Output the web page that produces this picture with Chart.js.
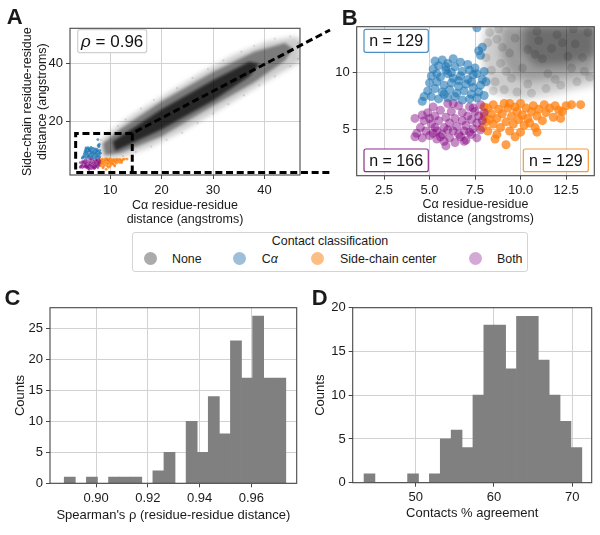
<!DOCTYPE html>
<html>
<head>
<meta charset="utf-8">
<script src="https://cdn.jsdelivr.net/npm/chart.js@4.4.1/dist/chart.umd.min.js"></script>
<style>
  body { margin: 0; background: #fff; font-family: 'Liberation Sans', Arial, sans-serif; color: #1a1a1a; }
  #fig { position: relative; width: 600px; height: 535px; overflow: hidden; }
  canvas { position: absolute; }
  .tag { position: absolute; font-weight: bold; font-size: 22px; line-height: 22px; }
  #legend { position: absolute; left: 132px; top: 231.5px; width: 394px; height: 38px; border: 1px solid #d4d4d4; border-radius: 3px; background: rgba(255,255,255,0.9); font-size: 12.4px; }
  #legend .ttl { position: absolute; left: 0; width: 394px; top: 1.3px; line-height: 14px; text-align: center; }
  #legend .dot { position: absolute; top: 19.8px; width: 13px; height: 13px; border-radius: 50%; }
  #legend .lbl { position: absolute; top: 19.3px; line-height: 14px; }
</style>
</head>
<body>
<div id="fig">
  <canvas id="cvB" width="300" height="230" style="left:300px;top:0"></canvas>
  <canvas id="cvA" width="340" height="230" style="left:0;top:0"></canvas>
  <canvas id="cvC" width="300" height="250" style="left:0;top:285px"></canvas>
  <canvas id="cvD" width="300" height="250" style="left:300px;top:285px"></canvas>
  <div class="tag" style="left:6.7px;top:6.4px">A</div>
  <div class="tag" style="left:341.7px;top:7.1px">B</div>
  <div class="tag" style="left:4.5px;top:287.1px">C</div>
  <div class="tag" style="left:311.8px;top:287.1px">D</div>
  <div id="legend">
    <div class="ttl">Contact classification</div>
    <span class="dot" style="left:10.8px;background:#ababab"></span><span class="lbl" style="left:39px">None</span>
    <span class="dot" style="left:99.5px;background:#9ebfdc"></span><span class="lbl" style="left:128.7px">C<i>α</i></span>
    <span class="dot" style="left:177.8px;background:#fdbe84"></span><span class="lbl" style="left:207px">Side-chain center</span>
    <span class="dot" style="left:335.5px;background:#d5a9d5"></span><span class="lbl" style="left:364px">Both</span>
  </div>
</div>
<script>
// ---- panel A: outline of the non-contact cloud (dense core inside) ----
const cloudOuter = [[7.8,11.5],[8.4,14],[10,16.5],[14.5,22.5],[21,29.5],[27.5,36.5],[34,42.8],[40.5,47.4],[45.5,49],[47,48.5],
                    [47,40.5],[43.7,37.3],[37.2,30.5],[30.8,23.8],[24.3,17],[17.8,11.4],[13,8.3],[10,7.2],[8.5,7.6]];
const cloudMid = [[8.6,12.5],[12,17.5],[20,27],[30,37],[38,44],[44,47],[45.5,45],
                  [44,41],[38,33.5],[30,25.5],[20,15],[12,9.3],[9,8.6]];
const cloudCore = [[10.5,13.2],[20,24.3],[30,34.2],[37,40.5],[39,39.8],[37,35.5],[30,27.2],[20,17.3],[11,10]];
const cloudFringe = [[7.5,11],[8.2,13.8],[9.5,15.8],[11.5,18.5],[13,20.8],[16,24.5],[18.5,27.5],[23,31.5],[26,35],[29,38],
                     [32,41],[35.5,44],[38,46],[42,48.5],[45,49.2],[46.5,47],[9.5,6.8],[12.5,8.2],[15,9.6],[18,11.5],
                     [21,13.8],[24,16.2],[27,19.5],[30,22.8],[33,26],[36,29],[39,32.5],[42,35.5],[45,39],[46.5,41.5]];
const zoomBox = [3.3, 14.3, 2.6, 16];   // x0, x1, y0, y1 of the dashed zoom window

// ---- panel B: zoomed view ----
const zoomGrayOuter = [[8.1,14.2],[7.9,12],[8.0,10],[8.2,8.6],[9,8.0],[10,7.7],[11,7.9],[12,8.2],[13,8.6],[14.2,9.0],[14.2,14.2]];
const zoomGrayMid = [[9.0,14.2],[8.9,11.5],[9.4,9.8],[10.5,9.2],[12,9.5],[14.2,10],[14.2,14.2]];
const zoomGrayCore = [[10.2,14.2],[10.1,12],[10.8,10.6],[12.4,10.7],[14.2,11.5],[14.2,14.2]];
const zoomGrayPts = [[8.3,13.5],[8.2,12.6],[8.1,11.3],[8.4,10.2],[8.6,9.2],[9.1,8.5],[9.8,8.3],[10.6,8.2],[11.4,8.6],[12.2,8.9],
                     [13.1,9.2],[13.8,9.6],[8.8,13.8],[9.0,12.2],[8.9,10.8],[9.5,9.5],[10.4,9.0],[11.9,9.4],[13.5,10.1],[8.5,8.4],
                     [9.4,11.7],[9.7,13.0],[11.0,12.8],[12.0,13.3],[13.0,12.5],[13.7,13.5],[12.6,11.4],[11.2,11.2],[10.4,12.0],[13.4,11.3],
                     [10.9,13.6],[11.7,12.1],[12.9,13.8],[10.1,10.4],[11.5,9.9],[12.8,10.4],[9.2,10.1],[8.7,12.9],[10.8,11.6],[12.3,12.6]];
const caPts = [[5.3,11.0],[5.7,11.1],[6.0,10.8],[6.3,11.2],[6.7,10.9],[7.1,10.7],[7.5,10.4],[7.8,11.5],[7.9,12.2],[7.7,11.9],[7.6,13.9],
               [5.2,10.3],[5.5,10.6],[5.9,10.2],[6.4,10.5],[6.8,10.1],[7.2,10.2],[7.6,9.9],[8.0,10.1],
               [5.1,9.7],[5.6,9.6],[6.0,9.9],[6.3,9.5],[6.7,9.7],[7.1,9.4],[7.4,9.8],[7.9,9.4],
               [5.0,9.1],[5.4,9.2],[5.8,8.9],[6.2,9.1],[6.6,8.8],[7.0,9.0],[7.4,8.7],[7.8,8.9],[8.1,9.2],
               [4.9,8.4],[5.3,8.6],[5.7,8.3],[6.1,8.5],[6.5,8.2],[6.9,8.4],[7.3,8.1],[7.7,8.3],
               [4.7,7.9],[5.1,7.9],[5.5,7.7],[6.0,7.8],[6.4,7.9],[6.8,7.6],[7.2,7.7],[7.6,7.8],[8.0,8.0],
               [4.6,7.5],[5.8,8.1],[6.6,9.3],[5.9,10.5],[7.3,9.2],[6.2,10.0],[5.4,9.9]];
const bothPts = [[4.2,4.4],[4.3,4.7],[4.2,6.0],[4.5,5.2],[4.6,4.3],[4.8,4.9],[4.7,5.8],[4.9,6.5],[5.0,4.5],[5.1,5.5],[5.2,7.0],
                 [5.3,6.2],[5.4,4.2],[5.4,4.9],[5.5,5.8],[5.6,6.7],[5.7,4.6],[5.8,5.2],[5.9,3.6],[5.9,6.1],[6.0,7.3],[6.1,4.3],
                 [6.1,5.6],[6.2,6.6],[6.3,4.9],[6.4,3.9],[6.4,6.0],[6.5,5.3],[6.6,7.1],[6.7,4.4],[6.8,5.8],[6.8,6.5],[6.9,4.9],
                 [7.0,4.1],[7.0,5.4],[7.1,6.2],[7.2,7.0],[7.3,4.6],[7.3,5.9],[7.4,5.1],[7.5,6.6],[7.6,4.3],[7.6,5.6],[7.7,6.2],
                 [7.8,5.0],[7.8,7.2],[7.9,5.8],[8.0,6.5],[5.0,6.0],[5.6,4.4],[6.3,7.3],[6.9,4.0],[7.2,4.8],[5.3,5.2],[4.6,6.3],
                 [5.8,4.0],[6.6,4.6],[7.4,6.9],[5.2,4.7],[6.0,5.0]];
const sidePts = [[7.9,5.2],[8.0,6.2],[8.1,5.7],[8.2,6.9],[8.2,4.9],[8.4,6.4],[8.5,5.5],[8.5,7.2],[8.7,4.6],[8.7,6.0],[8.8,6.8],
                 [8.9,5.2],[9.0,6.4],[9.1,7.3],[9.2,5.7],[9.2,3.7],[9.3,6.9],[9.4,4.9],[9.5,6.2],[9.6,5.5],[9.7,7.0],[9.8,6.6],
                 [9.9,5.9],[10.0,4.8],[10.0,7.3],[10.1,6.3],[10.2,5.4],[10.3,6.9],[10.4,6.0],[10.5,5.6],[10.6,6.6],[10.7,7.1],
                 [10.9,4.8],[10.9,6.2],[11.0,6.8],[11.2,5.8],[11.3,7.2],[11.4,6.5],[11.6,6.9],[11.8,6.1],[11.9,7.1],[12.1,6.7],
                 [12.3,6.6],[12.5,7.1],[12.8,7.2],[13.3,7.2],[12.2,6.0],[8.6,4.2],[9.7,4.4],[8.3,5.9],[10.8,5.2],[9.4,7.3],[8.0,7.0]];

// ---- panels C and D: histograms ----
const rhoBinEdges = [0.8877,0.89198,0.89626,0.90054,0.90482,0.9091,0.91338,0.91766,0.92194,0.92622,0.9305,
                     0.93478,0.93906,0.94334,0.94762,0.9519,0.95618,0.96046,0.96474,0.96902,0.9733];
const rhoCounts = [1,0,1,0,1,1,1,0,2,5,0,10,5,14,8,23,17,27,17,17];
const agreeBinEdges = [43.4,44.792,46.184,47.576,48.968,50.36,51.752,53.144,54.536,55.928,57.32,
                       58.712,60.104,61.496,62.888,64.28,65.672,67.064,68.456,69.848,71.24];
const agreeCounts = [1,0,0,0,1,0,1,5,6,4,10,18,18,13,19,19,14,10,7,4];

// ticks
const aTicksX = [10,20,30,40], aTicksY = [20,40];
const bTicksX = [2.5,5,7.5,10,12.5], bTicksY = [5,10];
const cTicksX = [0.90,0.92,0.94,0.96], cTicksY = [0,5,10,15,20,25];
const dTicksX = [50,60,70], dTicksY = [0,5,10,15,20];

Chart.defaults.font.family = "'Liberation Sans', Arial, sans-serif";
Chart.defaults.font.size = 13;
Chart.defaults.color = '#1a1a1a';

const GRID = '#d2d2d2', FRAME = '#474747';
const toXY = arr => arr.map(([x, y]) => ({x, y}));
const binned = (edges, counts) => counts.map((c, i) => ({x: (edges[i] + edges[i + 1]) / 2, y: c}));

function scaleOpts(o) {
    return {
        type: 'linear', min: o.min, max: o.max, offset: false,
        afterBuildTicks: s => { s.ticks = o.ticks.map(v => ({value: v})); },
        afterFit: s => { if (o.width) s.width = o.width; if (o.height) s.height = o.height; },
        grid: {color: GRID, lineWidth: 1, tickLength: 4, tickColor: FRAME, offset: false},
        border: {display: false},
        ticks: {padding: o.pad || 3, maxRotation: 0, autoSkip: false, callback: o.fmt || (v => String(v))},
        title: o.title ? {display: true, text: o.title, color: '#1a1a1a',
                          font: {size: o.tsize || 13, lineHeight: o.lh || 1.2}, padding: o.tpad} : {display: false}
    };
}

const framePlugin = {
    id: 'frame',
    afterDatasetsDraw(chart) {
        const {ctx, chartArea: a} = chart;
        ctx.save();
        ctx.strokeStyle = FRAME;
        ctx.lineWidth = 1.1;
        ctx.strokeRect(a.left, a.top, a.right - a.left, a.bottom - a.top);
        ctx.restore();
    }
};

// soft filled outlines for the dense point clouds
const cloudPlugin = layers => ({
    id: 'cloud',
    beforeDatasetsDraw(chart) {
        const {ctx, chartArea: a, scales: {x, y}} = chart;
        ctx.save();
        ctx.beginPath();
        ctx.rect(a.left, a.top, a.right - a.left, a.bottom - a.top);
        ctx.clip();
        layers.forEach(l => {
            ctx.filter = `blur(${l.blur}px)`;
            ctx.fillStyle = l.color;
            ctx.beginPath();
            l.pts.forEach(([px, py], i) => {
                const X = x.getPixelForValue(px), Y = y.getPixelForValue(py);
                if (i) ctx.lineTo(X, Y); else ctx.moveTo(X, Y);
            });
            ctx.closePath();
            ctx.fill();
        });
        ctx.restore();
    }
});

// annotation boxes (rho, n = ...)
const boxPlugin = boxes => ({
    id: 'boxes',
    afterDraw(chart) {
        const {ctx, chartArea: a} = chart;
        boxes.forEach(b => {
            const x = b.right != null ? a.right - b.right - b.w : a.left + b.left;
            const y = b.bottom != null ? a.bottom - b.bottom - b.h : a.top + b.top;
            ctx.save();
            ctx.beginPath();
            ctx.roundRect(x, y, b.w, b.h, 2);
            ctx.fillStyle = 'rgba(255,255,255,0.9)';
            ctx.fill();
            ctx.strokeStyle = b.color;
            ctx.lineWidth = 1.2;
            ctx.stroke();
            ctx.fillStyle = '#111';
            ctx.textBaseline = 'middle';
            const fam = "'Liberation Sans', Arial, sans-serif";
            const widths = b.parts.map(p => { ctx.font = `${p[1] ? 'italic ' : ''}${b.size}px ${fam}`; return ctx.measureText(p[0]).width; });
            let cx = x + b.w / 2 - widths.reduce((s, w) => s + w, 0) / 2;
            b.parts.forEach((p, i) => {
                ctx.font = `${p[1] ? 'italic ' : ''}${b.size}px ${fam}`;
                ctx.fillText(p[0], cx, y + b.h / 2 + 1);
                cx += widths[i];
            });
            ctx.restore();
        });
    }
});

// dashed zoom window and its connectors towards panel B
const linkEnd = {x: 330, top: 30};
const zoomLinks = {
    id: 'zoomLinks',
    afterDraw(chart) {
        const {ctx, scales: {x, y}} = chart;
        const l = x.getPixelForValue(zoomBox[0]), r = x.getPixelForValue(zoomBox[1]);
        const b = y.getPixelForValue(zoomBox[2]), t = y.getPixelForValue(zoomBox[3]);
        ctx.save();
        ctx.strokeStyle = '#000';
        ctx.lineWidth = 3;
        ctx.setLineDash([7, 3.7]);
        ctx.beginPath();
        ctx.moveTo(r, t); ctx.lineTo(l, t); ctx.lineTo(l, b); ctx.lineTo(linkEnd.x, b);
        ctx.moveTo(r, b); ctx.lineTo(r, t); ctx.lineTo(linkEnd.x, linkEnd.top);
        ctx.stroke();
        ctx.restore();
    }
};

const common = {responsive: false, animation: false, devicePixelRatio: 1,
                plugins: {legend: {display: false}, tooltip: {enabled: false}}};

// Panel A
new Chart(document.getElementById('cvA'), {
    type: 'scatter',
    data: {datasets: [
        {data: toXY(cloudFringe), pointRadius: 1.1, backgroundColor: 'rgba(0,0,0,0.12)', borderWidth: 0},
        {data: toXY(caPts), pointRadius: 1.4, backgroundColor: 'rgba(31,119,180,0.75)', borderWidth: 0},
        {data: toXY(bothPts), pointRadius: 1.4, backgroundColor: 'rgba(128,0,128,0.6)', borderWidth: 0},
        {data: toXY(sidePts), pointRadius: 1.4, backgroundColor: 'rgba(255,127,14,0.8)', borderWidth: 0}
    ]},
    options: {...common,
        layout: {padding: {left: 0, top: 28.3, right: 40, bottom: 0}},
        scales: {
            x: scaleOpts({min: 2.2, max: 46.9, ticks: aTicksX, height: 55, pad: 4,
                          title: ['Cα residue-residue', 'distance (angstroms)'], tsize: 12.5, lh: 1.1, tpad: {bottom: 3.4}}),
            y: scaleOpts({min: 1.75, max: 52, ticks: aTicksY, width: 70,
                          title: ['Side-chain residue-residue', 'distance (angstroms)'], tsize: 12.5, lh: 1.2, tpad: {top: 20.5}})
        }},
    plugins: [cloudPlugin([
        {pts: cloudOuter, color: 'rgba(0,0,0,0.2)', blur: 2.5},
        {pts: cloudMid, color: 'rgba(0,0,0,0.4)', blur: 1.8},
        {pts: cloudCore, color: 'rgba(0,0,0,0.68)', blur: 1.6}
    ]), framePlugin, zoomLinks,
        boxPlugin([{left: 7.7, top: 1.3, w: 69, h: 23, color: '#d0d0d0', size: 17, parts: [['ρ', true], [' = 0.96', false]]}])]
});

// Panel B
new Chart(document.getElementById('cvB'), {
    type: 'scatter',
    data: {datasets: [
        {data: toXY(zoomGrayPts), pointRadius: 4.5, backgroundColor: 'rgba(0,0,0,0.12)', borderWidth: 0},
        {data: toXY(caPts), pointRadius: 4.5, backgroundColor: 'rgba(31,119,180,0.6)', borderWidth: 0},
        {data: toXY(bothPts), pointRadius: 4.5, backgroundColor: 'rgba(128,0,128,0.45)', borderWidth: 0},
        {data: toXY(sidePts), pointRadius: 4.5, backgroundColor: 'rgba(255,127,14,0.75)', borderWidth: 0}
    ]},
    options: {...common,
        layout: {padding: {left: 0, top: 26.7, right: 5.7, bottom: 0}},
        scales: {
            x: scaleOpts({min: 1.0, max: 14.05, ticks: bTicksX, height: 54.3, fmt: v => v.toFixed(1),
                          title: ['Cα residue-residue', 'distance (angstroms)'], tsize: 12.5, lh: 1.1, tpad: {bottom: 4.4}}),
            y: scaleOpts({min: 1.0, max: 14.0, ticks: bTicksY, width: 56.7})
        }},
    plugins: [cloudPlugin([
        {pts: zoomGrayOuter, color: 'rgba(0,0,0,0.2)', blur: 4},
        {pts: zoomGrayMid, color: 'rgba(0,0,0,0.24)', blur: 4},
        {pts: zoomGrayCore, color: 'rgba(0,0,0,0.3)', blur: 4}
    ]), framePlugin,
        boxPlugin([
            {left: 7.3, top: 2.6, w: 64.3, h: 23, color: '#4b8fc4', size: 16, parts: [['n = 129', false]]},
            {left: 7.3, bottom: 4, w: 64.3, h: 22.7, color: '#8b2f8b', size: 16, parts: [['n = 166', false]]},
            {right: 6, bottom: 4, w: 65, h: 22.7, color: '#f59a3c', size: 16, parts: [['n = 129', false]]}
        ])]
});

// Panel C
new Chart(document.getElementById('cvC'), {
    type: 'bar',
    data: {datasets: [{data: binned(rhoBinEdges, rhoCounts), backgroundColor: '#808080', borderWidth: 0,
                       barPercentage: 1, categoryPercentage: 1}]},
    options: {...common,
        layout: {padding: {left: 0, top: 22.7, right: 3.3, bottom: 0}},
        scales: {
            x: scaleOpts({min: 0.8822, max: 0.9775, ticks: cTicksX, height: 51.7, fmt: v => v.toFixed(2),
                          title: "Spearman's ρ (residue-residue distance)", tpad: {bottom: 12.2}}),
            y: scaleOpts({min: 0, max: 28.35, ticks: cTicksY, width: 50, title: 'Counts', tpad: {top: 12.2}})
        }},
    plugins: [framePlugin]
});

// Panel D
new Chart(document.getElementById('cvD'), {
    type: 'bar',
    data: {datasets: [{data: binned(agreeBinEdges, agreeCounts), backgroundColor: '#808080', borderWidth: 0,
                       barPercentage: 1, categoryPercentage: 1}]},
    options: {...common,
        layout: {padding: {left: 0, top: 22.7, right: 8.3, bottom: 0}},
        scales: {
            x: scaleOpts({min: 41.95, max: 72.5, ticks: dTicksX, height: 52.3,
                          title: 'Contacts % agreement', tpad: {bottom: 13.9}}),
            y: scaleOpts({min: 0, max: 20, ticks: dTicksY, width: 52.7, title: 'Counts', tpad: {top: 12.2}})
        }},
    plugins: [framePlugin]
});
</script>
</body>
</html>
